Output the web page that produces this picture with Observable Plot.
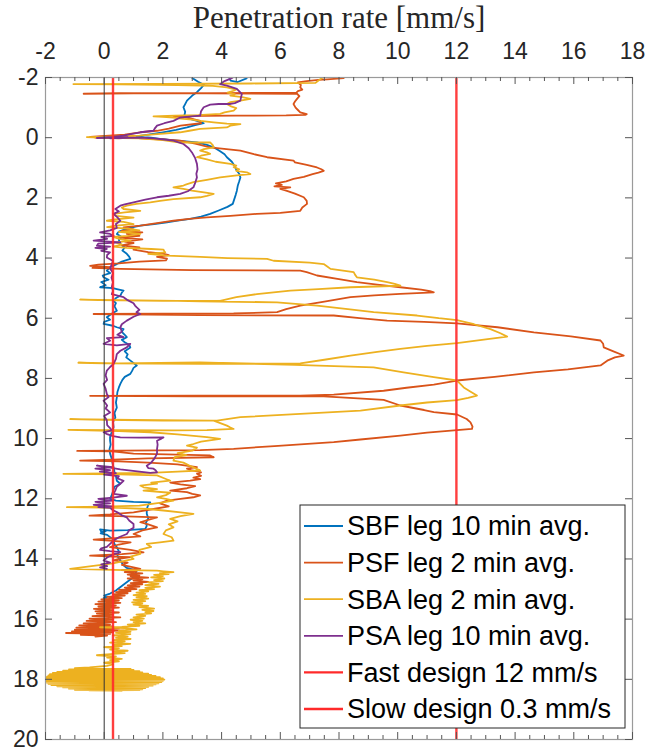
<!DOCTYPE html>
<html><head><meta charset="utf-8">
<script src="https://cdn.jsdelivr.net/npm/d3@7"></script>
<script src="https://cdn.jsdelivr.net/npm/@observablehq/plot@0.6"></script>
<style>body{margin:0;background:#fff}#chart svg{display:block}</style>
</head><body><div id="chart"></div>
<script>
const xLabel = "Penetration rate [mm/s]";
const xTicks = [-2,0,2,4,6,8,10,12,14,16,18];
const xMinorTicks = [-1.5,-1,-0.5,0.5,1,1.5,2.5,3,3.5,4.5,5,5.5,6.5,7,7.5,8.5,9,9.5,10.5,11,11.5,12.5,13,13.5,14.5,15,15.5,16.5,17,17.5];
const yTicks = [-2,0,2,4,6,8,10,12,14,16,18,20];
const seriesNames = ["SBF leg 10 min avg.","PSF leg 2 min avg.","SBA leg 2 min avg.","PSA leg 10 min avg."];
const seriesColors = ["#0072BD","#D95319","#EDB120","#7E2F8E"];
const designNames = ["Fast design 12 mm/s","Slow design 0.3 mm/s"];
const designRates = [12, 0.3];
const designColor = "#ff2a2a";

// [depth, rate]
const sbf = [[-2.15,4.95],[-1.97,4.85],[-1.85,4.55],[-1.9,4.3],[-2.15,4.2],[-2.15,2.95],[-1.98,3.0],[-1.86,3.2],[-1.76,3.4],[-1.65,3.3],[-1.51,3.16],[-1.4,3.0],[-1.23,2.82],[-1.1,2.75],[-1.01,2.7],[-0.86,2.76],[-0.73,2.73],[-0.62,2.95],[-0.56,3.16],[-0.48,3.39],[-0.42,3.1],[-0.34,2.82],[-0.26,2.45],[-0.18,2.0],[-0.1,1.5],[-0.04,1.1],[0.0,1.6],[0.04,1.9],[0.1,2.5],[0.16,3.16],[0.24,3.5],[0.32,3.73],[0.45,3.95],[0.55,4.1],[0.65,4.18],[0.8,4.35],[0.95,4.45],[1.1,4.52],[1.2,4.6],[1.32,4.64],[1.45,4.6],[1.6,4.55],[1.76,4.52],[1.9,4.48],[2.05,4.43],[2.2,4.38],[2.3,4.2],[2.42,3.9],[2.53,3.61],[2.62,3.3],[2.7,2.93],[2.76,2.5],[2.81,2.14],[2.87,1.7],[2.92,1.23],[2.98,0.95],[3.03,0.77],[3.12,0.5],[3.2,0.43],[3.3,0.6],[3.4,0.5],[3.53,0.55],[3.65,0.7],[3.75,0.62],[3.86,0.77],[3.95,0.85],[4.03,0.89],[4.12,0.6],[4.2,0.43],[4.3,0.2],[4.42,0.09],[4.5,0.2],[4.58,-0.05],[4.64,-0.02],[4.72,0.15],[4.8,-0.1],[4.9,0.05],[4.97,-0.14],[5.0,0.3],[5.03,0.43],[5.08,0.66],[5.15,0.6],[5.25,0.55],[5.33,0.4],[5.42,0.32],[5.5,0.4],[5.6,0.35],[5.75,0.43],[5.85,0.25],[5.97,0.09],[6.05,0.2],[6.12,0.0],[6.19,-0.02],[6.25,0.3],[6.3,0.43],[6.36,0.66],[6.45,0.6],[6.55,0.7],[6.63,0.77],[6.72,0.6],[6.8,0.7],[6.88,0.85],[6.97,0.89],[7.1,0.7],[7.2,0.8],[7.3,0.75],[7.45,0.95],[7.57,1.11],[7.65,1.0],[7.75,0.95],[7.85,0.89],[7.95,0.7],[8.05,0.62],[8.18,0.55],[8.3,0.5],[8.45,0.45],[8.63,0.43],[8.8,0.4],[8.97,0.43],[9.15,0.35],[9.3,0.38],[9.45,0.3],[9.62,0.32],[9.8,0.25],[9.95,0.2],[10.07,0.2],[10.2,0.22],[10.35,0.18],[10.5,0.2],[10.65,0.25],[10.8,0.28],[10.96,0.32],[11.1,0.35],[11.25,0.4],[11.4,0.43],[11.5,0.55],[11.6,0.35],[11.75,0.3],[11.9,0.25],[12.0,0.2],[12.06,0.4],[12.1,1.0],[12.12,1.57],[12.2,1.5],[12.35,1.45],[12.5,1.45],[12.65,1.5],[12.8,1.42],[12.9,1.45],[13.0,1.4],[13.04,0.8],[13.06,0.2],[13.02,-0.14],[13.1,-0.1],[13.08,0.05],[13.15,-0.12],[13.2,0.1],[13.35,0.3],[13.5,0.35],[13.61,0.43],[13.75,0.5],[13.9,0.45],[14.05,0.55],[14.2,0.65],[14.3,0.77],[14.39,1.11],[14.5,1.05],[14.61,1.0],[14.75,0.8],[14.9,0.6],[15.05,0.4],[15.15,0.2],[15.22,0.0],[15.27,0.09],[15.3,-0.02],[15.36,0.1]];

const psf = [[-2.2,8.3],[-1.98,8.16],[-1.94,7.6],[-1.92,7.3],[-1.88,6.9],[-1.84,6.6],[-1.75,6.7],[-1.67,6.68],[-1.6,6.75],[-1.55,6.6],[-1.5,6.55],[-1.48,4.0],[-1.47,1.0],[-1.46,-0.7],[-1.48,0.5],[-1.47,3.5],[-1.46,6.57],[-1.38,6.65],[-1.29,6.57],[-1.2,6.5],[-1.12,6.45],[-1.0,6.52],[-0.92,6.6],[-0.84,6.68],[-0.78,6.9],[-0.76,6.85],[-0.74,6.2],[-0.73,4.5],[-0.72,2.36],[-0.65,2.9],[-0.56,3.27],[-0.48,3.3],[-0.4,2.6],[-0.3,2.2],[-0.23,1.8],[-0.18,1.23],[-0.1,0.7],[-0.05,-0.1],[-0.03,-0.48],[-0.01,0.3],[0.0,-0.3],[0.02,0.5],[-0.01,1.0],[0.02,1.23],[0.06,2.0],[0.1,2.59],[0.2,3.1],[0.32,3.61],[0.43,4.64],[0.55,5.1],[0.65,5.55],[0.76,6.45],[0.82,6.5],[0.9,6.9],[0.99,7.25],[1.05,7.4],[1.1,7.48],[1.16,7.3],[1.21,7.1],[1.3,6.8],[1.37,6.45],[1.45,6.2],[1.52,5.85],[1.57,6.05],[1.62,5.8],[1.65,6.34],[1.7,6.0],[1.76,6.2],[1.86,6.5],[1.98,6.8],[2.1,6.9],[2.2,6.91],[2.32,6.75],[2.43,6.68],[2.5,6.0],[2.53,5.2],[2.6,4.3],[2.65,3.5],[2.7,2.9],[2.76,2.36],[2.84,1.8],[2.92,1.23],[2.98,0.66],[3.05,1.0],[3.1,0.6],[3.15,1.3],[3.2,0.77],[3.26,1.2],[3.32,0.5],[3.38,1.3],[3.45,0.7],[3.5,1.0],[3.58,0.6],[3.65,1.2],[3.72,1.0],[3.8,1.5],[3.85,2.0],[3.9,2.2],[3.96,1.8],[4.02,2.14],[4.08,2.1],[4.12,1.2],[4.18,0.5],[4.22,-0.2],[4.26,-0.48],[4.3,0.2],[4.33,-0.4],[4.36,0.55],[4.4,3.0],[4.42,6.68],[4.47,6.9],[4.58,7.25],[4.7,8.0],[4.8,8.61],[4.88,9.3],[4.97,10.09],[5.05,10.8],[5.1,11.1],[5.14,11.23],[5.19,10.09],[5.24,9.2],[5.3,8.39],[5.45,7.5],[5.58,6.68],[5.7,6.2],[5.8,5.89],[5.84,4.41],[5.85,2.0],[5.86,-0.36],[5.88,1.5],[5.9,3.27],[5.91,7.82],[6.0,8.7],[6.08,9.64],[6.12,10.9],[6.17,12.02],[6.3,13.4],[6.47,14.64],[6.6,15.9],[6.74,16.91],[6.85,17.0],[6.97,17.02],[7.1,17.35],[7.24,17.7],[7.3,17.4],[7.41,17.14],[7.57,16.91],[7.7,15.8],[7.8,14.64],[7.95,13.3],[8.07,12.02],[8.21,11.23],[8.31,10.3],[8.41,9.52],[8.54,7.82],[8.57,6.68],[8.57,3.27],[8.58,-0.48],[8.6,3.0],[8.6,7.48],[8.71,9.52],[8.9,10.09],[9.05,10.9],[9.12,11.23],[9.2,12.02],[9.35,12.35],[9.46,12.48],[9.6,12.55],[9.68,12.53],[9.72,12.02],[9.8,11.0],[9.9,10.09],[10.03,8.73],[10.12,7.82],[10.25,5.8],[10.34,4.41],[10.38,3.27],[10.4,0.5],[10.41,-0.92],[10.42,0.2],[10.5,1.0],[10.56,3.61],[10.62,3.73],[10.66,1.5],[10.7,0.3],[10.73,-0.82],[10.76,0.5],[10.8,1.5],[10.86,2.5],[10.95,3.16],[11.0,2.82],[11.06,3.0],[11.12,3.3],[11.17,3.16],[11.24,3.3],[11.3,3.04],[11.35,3.27],[11.4,2.93],[11.46,2.25],[11.52,2.6],[11.58,3.1],[11.65,2.82],[11.73,2.25],[11.78,2.82],[11.84,3.0],[11.89,3.27],[11.95,3.04],[12.0,2.6],[12.06,2.14],[12.15,1.9],[12.25,2.2],[12.34,1.68],[12.45,1.0],[12.52,0.2],[12.56,-0.5],[12.58,0.5],[12.62,1.8],[12.7,1.5],[12.78,1.23],[12.85,1.5],[12.95,1.8],[13.05,1.3],[13.17,1.0],[13.25,1.23],[13.3,0.5],[13.36,-0.36],[13.4,0.3],[13.45,0.9],[13.52,0.5],[13.61,0.2],[13.7,0.9],[13.78,1.34],[13.84,0.6],[13.89,-0.48],[13.92,0.3],[13.94,0.89],[14.0,0.5],[14.05,0.32],[14.12,0.8],[14.2,0.6],[14.28,1.0],[14.33,1.23],[14.37,0.6],[14.4,1.1],[14.44,0.7],[14.48,1.3],[14.52,0.8],[14.55,1.2],[14.58,0.9],[14.62,1.5],[14.65,0.8],[14.68,1.3],[14.72,1.0],[14.76,1.5],[14.8,0.9],[14.84,1.3],[14.88,0.8],[14.92,1.2],[14.95,0.7],[15.0,1.1],[15.03,0.5],[15.07,0.9],[15.1,0.4],[15.14,0.8],[15.18,0.3],[15.22,0.7],[15.26,0.1],[15.3,0.6],[15.34,-0.1],[15.38,0.5],[15.42,-0.2],[15.46,0.55],[15.5,-0.3],[15.54,0.4],[15.58,-0.2],[15.62,0.5],[15.66,-0.35],[15.7,0.3],[15.74,-0.3],[15.78,0.5],[15.82,-0.25],[15.86,0.3],[15.9,-0.4],[15.94,0.55],[15.98,-0.5],[16.02,0.3],[16.06,-0.6],[16.1,0.4],[16.14,-0.7],[16.18,0.2],[16.21,-0.85],[16.24,0.3],[16.28,-0.95],[16.31,0.5],[16.35,-1.0],[16.38,0.66],[16.41,-1.1],[16.44,0.3],[16.46,-1.3],[16.49,0.2],[16.52,-0.8],[16.55,0.1],[16.58,-0.3]];

const sba = [[-2.2,7.6],[-2.0,7.45],[-1.9,7.3],[-1.82,7.2],[-1.8,5.0],[-1.79,2.0],[-1.78,-1.05],[-1.77,0.5],[-1.75,2.5],[-1.72,3.7],[-1.67,4.18],[-1.6,4.5],[-1.56,4.41],[-1.5,4.2],[-1.45,4.45],[-1.4,4.3],[-1.35,4.7],[-1.29,4.98],[-1.23,4.64],[-1.18,4.3],[-1.12,4.18],[-1.05,4.3],[-0.98,4.5],[-0.9,4.41],[-0.84,4.1],[-0.79,3.95],[-0.75,3.2],[-0.73,2.4],[-0.71,1.68],[-0.69,2.0],[-0.67,2.36],[-0.63,2.6],[-0.6,3.0],[-0.56,3.27],[-0.51,3.73],[-0.47,4.18],[-0.45,4.64],[-0.4,4.3],[-0.34,4.18],[-0.29,3.27],[-0.23,2.9],[-0.18,2.59],[-0.12,1.8],[-0.07,1.2],[-0.04,0.5],[-0.02,-0.59],[0.0,-0.2],[0.01,0.6],[0.02,1.23],[0.08,2.0],[0.16,2.59],[0.16,3.61],[0.25,3.7],[0.32,3.73],[0.38,3.4],[0.43,3.27],[0.49,3.5],[0.54,3.61],[0.6,3.3],[0.65,3.16],[0.72,3.5],[0.8,3.8],[0.87,4.3],[0.93,4.5],[0.98,4.41],[1.05,4.6],[1.1,4.5],[1.15,4.86],[1.21,4.98],[1.25,4.52],[1.32,3.95],[1.4,3.5],[1.48,3.04],[1.55,2.8],[1.59,2.7],[1.65,2.36],[1.7,2.7],[1.76,2.99],[1.82,3.4],[1.87,3.73],[1.93,3.5],[1.98,3.27],[2.04,2.36],[2.1,1.9],[2.15,1.57],[2.2,1.1],[2.26,0.77],[2.32,0.6],[2.37,0.66],[2.43,1.23],[2.48,0.7],[2.53,0.32],[2.6,0.4],[2.66,1.0],[2.72,0.3],[2.76,0.09],[2.8,0.66],[2.87,1.0],[2.92,0.4],[2.97,0.1],[3.02,0.8],[3.08,1.2],[3.13,0.5],[3.2,1.23],[3.26,0.8],[3.3,0.3],[3.37,0.55],[3.42,0.9],[3.48,0.4],[3.55,0.6],[3.62,0.3],[3.66,0.77],[3.7,1.6],[3.72,2.02],[3.78,2.05],[3.81,2.08],[3.86,1.5],[3.92,2.14],[3.96,3.27],[4.0,4.2],[4.03,5.55],[4.09,5.77],[4.15,7.0],[4.2,7.48],[4.28,7.6],[4.36,7.71],[4.47,8.5],[4.56,8.55],[4.64,8.61],[4.72,9.2],[4.8,9.64],[4.86,9.9],[4.92,10.09],[4.97,8.39],[5.03,7.3],[5.08,6.34],[5.2,5.2],[5.3,4.5],[5.42,3.95],[5.42,2.0],[5.4,-0.2],[5.38,-0.82],[5.4,0.5],[5.42,2.5],[5.44,3.27],[5.47,5.89],[5.58,7.25],[5.7,8.3],[5.8,9.18],[5.91,10.66],[6.0,11.4],[6.06,12.02],[6.2,12.6],[6.36,13.16],[6.5,13.5],[6.61,13.73],[6.7,13.0],[6.83,12.02],[6.92,11.0],[7.02,10.09],[7.12,9.3],[7.24,8.39],[7.38,7.5],[7.5,6.68],[7.52,3.27],[7.5,0.0],[7.48,-0.88],[7.5,0.5],[7.47,3.27],[7.55,6.5],[7.63,9.18],[7.8,10.2],[7.96,11.23],[8.07,12.02],[8.2,12.15],[8.3,12.25],[8.45,12.5],[8.57,12.7],[8.65,12.4],[8.72,12.02],[8.8,11.0],[8.9,10.09],[9.07,8.73],[9.18,6.68],[9.29,4.64],[9.4,3.84],[9.4,2.0],[9.38,0.0],[9.35,-1.16],[9.38,1.0],[9.4,3.73],[9.5,4.0],[9.57,4.18],[9.63,4.3],[9.68,4.41],[9.72,3.5],[9.73,2.36],[9.72,0.5],[9.71,-1.22],[9.75,0.5],[9.79,1.57],[9.86,2.5],[9.95,3.5],[10.01,3.95],[10.1,3.3],[10.18,3.04],[10.23,2.82],[10.3,3.16],[10.4,3.0],[10.48,2.5],[10.55,2.8],[10.62,2.4],[10.73,2.36],[10.8,2.7],[10.9,2.9],[10.98,3.1],[11.06,3.27],[11.1,2.5],[11.14,1.57],[11.16,0.0],[11.17,-1.39],[11.19,0.5],[11.22,1.8],[11.3,2.0],[11.4,2.25],[11.46,1.6],[11.5,1.8],[11.56,1.23],[11.62,1.34],[11.68,1.8],[11.73,1.34],[11.8,2.25],[11.88,2.1],[11.95,1.8],[12.0,2.1],[12.06,2.36],[12.12,2.0],[12.18,1.57],[12.23,1.2],[12.26,0.0],[12.28,-1.27],[12.3,0.5],[12.34,1.5],[12.39,2.02],[12.45,2.6],[12.5,3.04],[12.58,2.6],[12.67,2.25],[12.75,2.5],[12.85,2.2],[12.95,2.36],[13.05,2.1],[13.17,2.02],[13.28,2.3],[13.39,2.36],[13.45,1.9],[13.5,1.45],[13.6,1.6],[13.7,1.2],[13.83,1.23],[13.92,0.9],[14.0,1.0],[14.05,0.77],[14.15,0.3],[14.25,-0.5],[14.33,-1.16],[14.36,0.3],[14.39,1.8],[14.41,2.02],[14.44,2.36],[14.47,1.9],[14.5,2.2],[14.53,1.7],[14.57,2.0],[14.61,1.6],[14.65,2.05],[14.7,1.7],[14.74,2.0],[14.78,1.5],[14.83,1.85],[14.87,1.4],[14.92,1.9],[14.96,1.4],[15.0,1.7],[15.04,1.2],[15.08,1.5],[15.12,1.1],[15.16,1.4],[15.2,1.0],[15.24,1.45],[15.28,1.1],[15.32,1.5],[15.36,1.0],[15.4,1.4],[15.44,0.95],[15.48,1.3],[15.52,1.0],[15.56,1.5],[15.6,1.2],[15.65,1.7],[15.69,1.3],[15.73,1.68],[15.77,1.4],[15.81,1.6],[15.85,1.1],[15.89,1.4],[15.94,1.0],[15.98,1.35],[16.02,0.9],[16.06,1.3],[16.1,1.0],[16.14,1.4],[16.18,0.8],[16.22,1.2],[16.26,0.6],[16.27,-0.14],[16.3,0.7],[16.34,1.1],[16.38,0.5],[16.42,0.9],[16.46,0.4],[16.5,0.89],[16.54,0.3],[16.58,0.8],[16.62,0.4],[16.66,0.9],[16.7,0.3],[16.74,0.7],[16.78,0.2],[16.82,0.89],[16.86,0.3],[16.9,0.6],[16.93,0.0],[16.97,0.5],[17.01,0.2],[17.05,0.8],[17.09,0.3],[17.13,0.7],[17.17,0.1],[17.2,-0.25],[17.24,0.4],[17.28,0.1],[17.32,0.6],[17.36,0.2],[17.4,0.5],[17.45,0.0],[17.5,0.3],[17.55,0.09],[17.6,-0.5],[17.63,-1.0],[17.65,0.9],[17.67,-1.2],[17.69,1.0],[17.71,-1.4],[17.73,1.2],[17.75,-1.6],[17.77,1.3],[17.79,-1.75],[17.81,1.5],[17.83,-1.85],[17.85,1.6],[17.87,-1.9],[17.89,1.75],[17.91,-1.95],[17.93,1.9],[17.95,-2.0],[17.97,2.0],[17.99,-2.05],[18.01,2.05],[18.03,-2.05],[18.05,2.0],[18.07,-2.0],[18.09,1.95],[18.11,-1.95],[18.13,1.85],[18.15,-1.9],[18.17,1.75],[18.19,-1.8],[18.21,1.65],[18.23,-1.6],[18.25,1.5],[18.27,-1.4],[18.29,1.4],[18.31,-1.2],[18.33,1.3],[18.35,-1.0],[18.36,1.2],[18.37,-0.5],[18.38,0.6]];

const psa = [[-2.15,4.6],[-1.98,4.35],[-1.88,4.1],[-1.78,3.95],[-1.73,4.18],[-1.62,4.52],[-1.52,4.62],[-1.45,4.69],[-1.33,4.66],[-1.23,4.64],[-1.15,4.45],[-1.12,4.3],[-1.12,3.9],[-1.1,3.61],[-1.01,3.39],[-0.88,3.3],[-0.73,3.27],[-0.7,2.9],[-0.67,2.59],[-0.56,2.36],[-0.48,2.05],[-0.4,1.8],[-0.3,1.72],[-0.23,1.68],[-0.18,1.23],[-0.12,0.9],[-0.07,0.66],[-0.03,0.3],[-0.01,0.0],[0.01,-0.25],[0.0,0.4],[0.02,0.2],[-0.01,0.8],[0.01,0.5],[0.0,1.2],[0.02,1.68],[0.06,2.05],[0.1,2.36],[0.21,2.7],[0.35,2.88],[0.49,2.99],[0.68,3.1],[0.87,3.16],[1.05,3.18],[1.2,3.14],[1.32,3.16],[1.5,3.1],[1.65,3.04],[1.78,2.85],[1.87,2.59],[1.93,2.2],[1.98,1.8],[2.06,1.4],[2.15,1.0],[2.22,0.7],[2.26,0.55],[2.37,0.38],[2.45,0.5],[2.53,0.32],[2.65,0.45],[2.76,0.55],[2.87,0.4],[3.0,0.43],[3.08,0.2],[3.15,-0.14],[3.2,0.2],[3.26,0.32],[3.3,-0.1],[3.36,0.1],[3.42,-0.36],[3.46,0.3],[3.48,0.55],[3.52,-0.2],[3.59,-0.25],[3.62,0.2],[3.66,-0.3],[3.7,0.09],[3.76,-0.1],[3.81,0.2],[3.9,0.1],[3.98,0.09],[4.1,0.3],[4.2,0.26],[4.35,0.2],[4.5,0.3],[4.65,0.25],[4.8,0.3],[4.95,0.26],[5.1,0.3],[5.2,0.26],[5.3,0.66],[5.4,0.8],[5.5,1.0],[5.58,1.05],[5.64,1.11],[5.72,1.2],[5.8,1.1],[5.86,1.23],[5.95,1.0],[6.08,0.77],[6.2,0.6],[6.3,0.55],[6.45,0.6],[6.55,0.45],[6.63,0.66],[6.66,0.09],[6.75,0.2],[6.85,-0.02],[6.9,0.43],[6.85,0.89],[6.97,0.77],[7.08,0.55],[7.19,0.43],[7.35,0.4],[7.52,0.32],[7.62,0.2],[7.74,0.09],[7.9,0.05],[8.05,0.1],[8.18,-0.02],[8.35,0.05],[8.52,0.09],[8.62,0.15],[8.74,-0.02],[8.9,0.1],[9.0,0.05],[9.13,0.2],[9.25,0.0],[9.4,0.09],[9.55,0.1],[9.65,0.2],[9.73,0.26],[9.79,-0.02],[9.85,0.1],[9.92,0.3],[9.96,0.55],[9.97,1.2],[9.96,2.02],[10.0,1.95],[10.07,1.8],[10.2,1.82],[10.35,1.8],[10.5,1.8],[10.65,1.72],[10.8,1.6],[10.9,1.45],[10.98,1.5],[11.0,1.68],[11.05,1.75],[11.12,1.8],[11.14,1.57],[11.1,1.2],[11.02,0.55],[10.95,0.1],[10.9,-0.25],[10.95,0.3],[11.0,-0.3],[11.05,0.2],[11.1,-0.15],[11.15,0.4],[11.2,0.0],[11.25,0.5],[11.32,0.45],[11.4,0.66],[11.5,0.55],[11.6,0.43],[11.72,0.38],[11.84,0.32],[11.9,0.77],[11.96,0.3],[12.0,-0.2],[12.06,0.3],[12.1,-0.3],[12.15,0.2],[12.2,-0.36],[12.25,0.25],[12.28,-0.2],[12.3,0.2],[12.38,0.3],[12.45,0.45],[12.55,0.6],[12.62,0.77],[12.72,0.85],[12.84,1.0],[12.96,1.0],[13.05,0.85],[13.17,0.77],[13.28,0.5],[13.39,0.32],[13.5,0.2],[13.6,0.09],[13.65,-0.1],[13.7,-0.14],[13.74,0.2],[13.77,0.55],[13.85,0.3],[13.95,0.1],[14.05,-0.02],[14.12,0.2],[14.18,-0.1],[14.24,0.1],[14.28,-0.14],[14.33,0.09]];

const series = [sbf, psf, sba, psa];

const W = 662, H = 753, mT = 77, mL = 45, mR = 30, mB = 14;
const fw = W - mL - mR, fh = H - mT - mB;
const txt = "#262626", tickCol = "#555";

const lineMarks = series.map((s, i) => Plot.line(s, {
  x: d => d[1], y: d => d[0], stroke: seriesColors[i], strokeWidth: 1.8, clip: true
}));

const plot = Plot.plot({
  width: W, height: H,
  marginTop: mT, marginLeft: mL, marginRight: mR, marginBottom: mB,
  style: {fontFamily: "'Liberation Sans', Arial, sans-serif", color: txt, background: "#fff"},
  x: {domain: [-2, 18]},
  y: {domain: [-2, 20], reverse: true},
  marks: [
    ...lineMarks,
    Plot.ruleX([0], {stroke: "#333", strokeWidth: 1}),
    Plot.ruleX(designRates, {stroke: designColor, strokeOpacity: 0.9, strokeWidth: 2.4}),
    Plot.frame({stroke: "#9a9a9a", strokeWidth: 1.2}),
    Plot.tickX(xTicks, {x: d => d, insetBottom: fh - 7, stroke: tickCol}),
    Plot.tickX(xTicks, {x: d => d, insetTop: fh - 7, stroke: tickCol}),
    Plot.tickX(xMinorTicks, {x: d => d, insetBottom: fh - 4, stroke: tickCol}),
    Plot.tickX(xMinorTicks, {x: d => d, insetTop: fh - 4, stroke: tickCol}),
    Plot.tickY(yTicks, {y: d => d, insetRight: fw - 7, stroke: tickCol}),
    Plot.tickY(yTicks, {y: d => d, insetLeft: fw - 7, stroke: tickCol}),
    Plot.axisX(xTicks, {anchor: "top", tickSize: 0, tickPadding: 19, fontSize: 23, label: null, tickFormat: d => String(d)}),
    Plot.axisY(yTicks, {anchor: "left", tickSize: 0, tickPadding: 7, fontSize: 23, label: null, tickFormat: d => String(d)}),
    Plot.text([xLabel], {frameAnchor: "top", lineAnchor: "middle", dy: -59, fontSize: 31, fontFamily: "'Liberation Serif', 'DejaVu Serif', serif", fill: txt})
  ]
});
document.getElementById("chart").appendChild(plot);

// legend
const svg = d3.select(plot);
const lg = svg.append("g").attr("text-anchor", "start");
const lx = 300, ly = 505, lw = 325, lh = 223, rowH = 36.6, row0 = 526;
lg.append("rect").attr("x", lx).attr("y", ly).attr("width", lw).attr("height", lh)
  .attr("fill", "#fff").attr("stroke", "#262626").attr("stroke-width", 1);
const entries = seriesNames.map((n, i) => ({name: n, color: seriesColors[i], w: 1.8}))
  .concat(designNames.map(n => ({name: n, color: designColor, w: 2.4})));
entries.forEach((e, i) => {
  const cy = row0 + i * rowH;
  lg.append("line").attr("x1", 304).attr("x2", 343).attr("y1", cy).attr("y2", cy)
    .attr("stroke", e.color).attr("stroke-width", e.w);
  lg.append("text").attr("x", 347).attr("y", cy).attr("dy", "0.35em")
    .attr("text-anchor", "start").attr("font-size", 27).attr("fill", "#000").text(e.name);
});
</script>
</body></html>
